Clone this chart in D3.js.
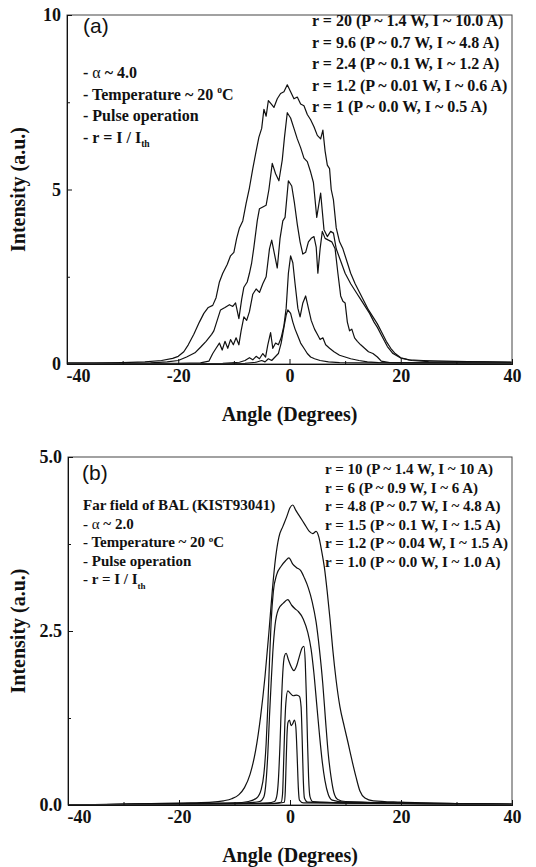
<!DOCTYPE html>
<html>
<head>
<meta charset="utf-8">
<script src="https://cdn.jsdelivr.net/npm/d3@7"></script>
<style>
body { margin: 0; background: #fff; }
svg text { font-family: "Liberation Serif", "Times New Roman", serif; font-weight: bold; fill: #111; }
</style>
</head>
<body>
<script>
//================= data (angle in degrees, intensity a.u.) ==================
// panel (a), alpha ~ 4.0
var aR20 = [[-40,0.03],[-35,0.03],[-30,0.04],[-26,0.06],[-23,0.1],[-21,0.16],[-20,0.22],[-19,0.35],[-18.2,0.55],[-17.2,0.85],[-16.2,1.2],[-15.4,1.45],[-14.6,1.62],[-13.8,1.68],[-13.2,1.9],[-12.6,2.35],[-12,2.6],[-11.2,2.85],[-10.6,3.1],[-10,3.2],[-9.5,3.6],[-9,3.9],[-8.4,4.1],[-7.8,4.6],[-7.2,5.05],[-6.6,5.6],[-6,6.1],[-5.5,6.5],[-5,6.75],[-4.6,7.3],[-4.2,7.1],[-3.8,7.55],[-3.3,7.45],[-2.8,7.35],[-2.2,7.6],[-1.6,7.75],[-1,7.8],[-0.4,8.0],[0.2,7.8],[0.8,7.6],[1.4,7.65],[2,7.45],[2.6,7.4],[3.2,7.15],[3.8,7.0],[4.4,6.8],[5,6.55],[5.6,6.45],[6,6.7],[6.4,6.1],[6.8,5.7],[7.2,5.6],[7.5,5.0],[7.9,4.7],[8.4,3.9],[9,3.5],[9.6,3.3],[10.4,2.9],[11,2.6],[11.8,2.3],[12.6,2.05],[13.4,1.8],[14.2,1.55],[15,1.35],[15.8,1.15],[16.6,0.9],[17.4,0.65],[18.2,0.45],[19,0.3],[20,0.18],[21.5,0.12],[24,0.1],[28,0.08],[32,0.07],[36,0.06],[40,0.05]];
var aR96 = [[-40,0.02],[-30,0.02],[-25,0.03],[-22,0.06],[-20,0.1],[-18.5,0.2],[-17,0.32],[-16,0.48],[-15,0.65],[-14,0.85],[-13.6,0.95],[-13,1.25],[-12.4,1.55],[-11.6,1.62],[-10.8,1.7],[-10.2,1.65],[-9.7,1.75],[-9.1,1.3],[-8.6,1.85],[-8.2,2.2],[-7.6,2.35],[-7.2,2.6],[-6.8,2.9],[-6.4,3.35],[-5.8,4.1],[-5.4,4.45],[-4.8,4.5],[-4.2,4.55],[-3.7,5.0],[-3.1,5.75],[-2.5,5.45],[-1.9,5.25],[-1.3,5.85],[-0.9,6.5],[-0.4,7.2],[0.2,7.05],[0.8,6.75],[1.4,6.45],[2,6.2],[2.6,5.9],[3.2,5.8],[3.8,5.5],[4.3,5.2],[4.9,4.2],[5.6,4.9],[6.2,3.85],[6.8,3.65],[7.4,3.8],[7.9,3.75],[8.4,3.3],[9.2,2.95],[10,2.6],[11,2.3],[12,2.05],[12.8,1.85],[13.6,1.65],[14.4,1.45],[15.2,1.2],[15.8,1.05],[16.6,0.8],[17.6,0.5],[18.6,0.3],[20,0.17],[22,0.1],[25,0.07],[30,0.06],[35,0.06],[40,0.05]];
var aR24 = [[-40,0.01],[-30,0.01],[-20,0.02],[-16,0.03],[-14.5,0.08],[-13.8,0.3],[-13.2,0.45],[-12.6,0.6],[-12.1,0.4],[-11.6,0.65],[-11.1,0.45],[-10.6,0.7],[-10.1,0.55],[-9.6,0.75],[-9.1,0.55],[-8.7,0.95],[-8.2,1.35],[-7.7,1.25],[-7.2,1.5],[-6.6,2.0],[-6.0,2.15],[-5.4,2.05],[-4.8,2.3],[-4.2,2.5],[-3.6,3.3],[-3.2,3.55],[-2.7,3.15],[-2.2,2.75],[-1.7,3.6],[-1.2,4.1],[-0.8,4.2],[-0.2,5.25],[0.4,5.1],[0.9,4.6],[1.4,4.0],[1.9,3.5],[2.4,3.15],[2.9,3.2],[3.4,3.5],[3.9,3.6],[4.4,3.65],[4.8,3.35],[5.1,2.6],[5.5,3.3],[5.9,3.8],[6.4,3.6],[7,3.55],[7.6,3.5],[8.2,3.3],[8.7,2.6],[9.2,1.95],[9.6,1.8],[10,1.75],[10.4,1.2],[10.8,0.95],[11.2,1.0],[11.7,0.75],[12.2,0.65],[12.8,0.55],[13.5,0.45],[14.2,0.35],[15,0.3],[15.8,0.2],[16.5,0.08],[18,0.04],[25,0.03],[40,0.02]];
var aR12 = [[-40,0.01],[-20,0.01],[-12,0.02],[-9,0.05],[-8,0.1],[-7.2,0.18],[-6.6,0.12],[-6,0.22],[-5.4,0.15],[-4.8,0.3],[-4.3,0.2],[-3.9,0.55],[-3.4,0.9],[-3.0,0.45],[-2.5,0.6],[-2.0,0.55],[-1.5,0.75],[-1.0,1.1],[-0.6,1.6],[-0.2,2.6],[0.2,3.1],[0.6,2.9],[1.0,2.3],[1.5,1.6],[1.9,1.35],[2.4,1.75],[2.9,1.95],[3.4,1.6],[3.9,1.25],[4.5,1.0],[5.0,0.85],[5.5,0.7],[6.0,0.75],[6.5,0.55],[7.2,0.45],[8,0.35],[9,0.25],[10,0.2],[11,0.15],[12.5,0.1],[14,0.06],[16,0.04],[20,0.03],[40,0.02]];
var aR10 = [[-40,0.01],[-15,0.01],[-8,0.02],[-6,0.05],[-5,0.1],[-4.4,0.06],[-3.8,0.15],[-3.2,0.1],[-2.6,0.2],[-2,0.3],[-1.5,0.6],[-1.0,1.05],[-0.6,1.4],[-0.3,1.55],[0.2,1.45],[0.6,1.2],[1.0,1.0],[1.5,0.8],[2.0,0.6],[2.6,0.45],[3.2,0.3],[3.8,0.2],[4.5,0.15],[5.5,0.1],[7,0.06],[9,0.04],[12,0.03],[40,0.02]];

// panel (b), alpha ~ 2.0
var bR10 = [[-40,0.0],[-33,0.01],[-25,0.02],[-18,0.03],[-14,0.04],[-12,0.06],[-10.5,0.09],[-9.2,0.15],[-8.2,0.25],[-7.2,0.44],[-6.2,0.78],[-5.3,1.27],[-4.5,1.85],[-3.8,2.48],[-3.2,3.07],[-2.6,3.55],[-2.0,3.85],[-1.3,4.0],[-0.6,4.14],[0.0,4.27],[0.5,4.31],[1.0,4.24],[1.8,4.14],[2.6,4.04],[3.4,3.94],[4.1,3.9],[4.7,3.93],[5.2,3.85],[5.7,3.65],[6.2,3.41],[6.7,3.07],[7.2,2.68],[7.7,2.24],[8.3,1.8],[9.0,1.41],[9.8,1.12],[10.5,0.88],[11.2,0.63],[11.9,0.4],[12.6,0.2],[13.5,0.1],[15,0.06],[20,0.04],[30,0.02],[40,0.01]];
var bR6 = [[-40,0.0],[-20,0.02],[-10,0.03],[-7.5,0.05],[-6,0.1],[-5.2,0.22],[-4.7,0.45],[-4.3,0.88],[-4.0,1.41],[-3.7,2.05],[-3.4,2.63],[-3.0,3.07],[-2.4,3.31],[-1.6,3.43],[-0.8,3.51],[-0.2,3.55],[0.5,3.46],[1.2,3.41],[1.9,3.37],[2.6,3.26],[3.3,3.12],[4.0,2.92],[4.7,2.63],[5.3,2.24],[5.9,1.75],[6.4,1.22],[6.9,0.73],[7.4,0.4],[7.9,0.18],[8.6,0.08],[10,0.05],[20,0.03],[40,0.01]];
var bR48 = [[-40,0.0],[-20,0.02],[-8,0.03],[-5.5,0.05],[-4.7,0.12],[-4.3,0.35],[-4.0,0.73],[-3.7,1.27],[-3.4,1.75],[-3.1,2.19],[-2.7,2.58],[-2.1,2.81],[-1.2,2.9],[-0.4,2.95],[0.3,2.87],[0.9,2.82],[1.5,2.78],[2.4,2.67],[3.2,2.48],[3.8,2.24],[4.3,1.9],[4.8,1.46],[5.3,1.02],[5.8,0.63],[6.3,0.35],[6.9,0.15],[7.6,0.07],[10,0.04],[40,0.01]];
var bR15 = [[-40,0.0],[-10,0.02],[-4,0.03],[-2.8,0.05],[-2.4,0.12],[-2.1,0.35],[-1.8,0.88],[-1.55,1.46],[-1.3,1.9],[-1.0,2.14],[-0.7,2.18],[-0.3,2.09],[0.2,1.99],[0.7,1.93],[1.2,2.0],[1.7,2.14],[2.2,2.26],[2.5,2.28],[2.75,2.05],[2.95,1.56],[3.15,0.93],[3.35,0.4],[3.6,0.12],[4.1,0.05],[10,0.03],[40,0.01]];
var bR12 = [[-40,0.0],[-4,0.02],[-1.6,0.04],[-1.35,0.15],[-1.15,0.6],[-0.95,1.12],[-0.75,1.46],[-0.4,1.64],[0.1,1.6],[0.6,1.57],[1.2,1.58],[1.7,1.56],[2.0,1.41],[2.2,0.93],[2.4,0.35],[2.6,0.1],[3.2,0.04],[40,0.01]];
var bR1 = [[-40,0.0],[-3,0.02],[-1.0,0.04],[-0.85,0.2],[-0.7,0.6],[-0.55,0.99],[-0.35,1.19],[-0.1,1.22],[0.2,1.14],[0.5,1.17],[0.8,1.22],[1.05,1.12],[1.3,0.68],[1.5,0.25],[1.7,0.07],[2.4,0.03],[40,0.01]];

// ticks and texts
var xTicks = [-40, -20, 0, 20, 40];
var xMinor = [-30, -10, 10, 30];
var yTicksA = [0, 5, 10];
var yMinorA = [2.5, 7.5];
var yTicksB = [0, 2.5, 5];
var yMinorB = [1.25, 3.75];

var legendA = ["r = 20 (P ~ 1.4 W, I ~ 10.0 A)", "r = 9.6 (P ~ 0.7 W, I ~ 4.8 A)", "r = 2.4 (P ~ 0.1 W, I ~ 1.2 A)", "r = 1.2 (P ~ 0.01 W, I ~ 0.6 A)", "r = 1 (P ~ 0.0 W, I ~ 0.5 A)"];
var notesA = ["- α ~ 4.0", "- Temperature ~ 20 {o}C", "- Pulse operation", "- r = I / I[th]"];
var legendB = ["r = 10 (P ~ 1.4 W, I ~ 10 A)", "r = 6 (P ~ 0.9 W, I ~ 6 A)", "r = 4.8 (P ~ 0.7 W, I ~ 4.8 A)", "r = 1.5 (P ~ 0.1 W, I ~ 1.5 A)", "r = 1.2 (P ~ 0.04 W, I ~ 1.5 A)", "r = 1.0 (P ~ 0.0 W, I ~ 1.0 A)"];
var notesB = ["Far field of BAL (KIST93041)", "- α ~ 2.0", "- Temperature ~ 20 {o}C", "- Pulse operation", "- r = I / I[th]"];
//================================================

var svg = d3.select("body").append("svg")
            .attr("width", 536)
            .attr("height", 867)
            .style("display", "block");

// text with {sup} and [sub] pieces, alpha drawn in normal weight
var richText = function(g, str, x, y, size) {
  var t = g.append("text").attr("x", x).attr("y", y).style("font-size", size + "px");
  var shift = 0;
  str.split(/(\{\w+\}|\[\w+\]|α)/).forEach(function(s) {
    if (s === "") return;
    var dy = 0, fs = size, txt = s;
    if (s[0] == "{") { dy = -0.38 * size; fs = 0.6 * size; txt = s.slice(1, -1); }
    else if (s[0] == "[") { dy = 0.28 * size; fs = 0.6 * size; txt = s.slice(1, -1); }
    var ts = t.append("tspan").attr("dy", dy - shift).style("font-size", fs + "px").text(txt);
    if (s == "α") ts.style("font-weight", "normal");
    shift = dy;
  });
  return t;
}

var drawPanel = function(p) {
  var x = d3.scaleLinear().domain([-40, 40]).range([p.left, p.right]);
  var y = d3.scaleLinear().domain([0, p.yMax]).range([p.bottom, p.top]);
  var g = svg.append("g");

  // curves
  var line = d3.line()
               .x(function(d) { return x(d[0]); })
               .y(function(d) { return y(d[1]); })
               .curve(p.curve);
  p.series.forEach(function(s) {
    g.append("path")
     .attr("d", line(s))
     .attr("fill", "none")
     .attr("stroke", "#111")
     .attr("stroke-width", 1.2)
     .attr("stroke-linejoin", "round");
  });

  // frame
  g.append("rect")
   .attr("x", p.left).attr("y", p.top)
   .attr("width", p.right - p.left).attr("height", p.bottom - p.top)
   .attr("fill", "none").attr("stroke", "#444").attr("stroke-width", 1);

  // axes, ticks point inward; plain hyphen for negatives
  var xAxis = g.append("g").attr("transform", "translate(0," + p.bottom + ")")
               .call(d3.axisBottom(x).tickValues(xTicks).tickSize(-5).tickPadding(5)
                       .tickFormat(function(d) { return String(d); }));
  g.append("g").attr("transform", "translate(0," + p.bottom + ")")
   .call(d3.axisBottom(x).tickValues(xMinor).tickSize(-3).tickFormat(""));
  var yAxis = g.append("g").attr("transform", "translate(" + p.left + ",0)")
               .call(d3.axisLeft(y).tickValues(p.yTicks).tickSize(-5).tickPadding(6).tickFormat(p.fmt));
  g.append("g").attr("transform", "translate(" + p.left + ",0)")
   .call(d3.axisLeft(y).tickValues(p.yMinor).tickSize(-3).tickFormat(""));
  g.selectAll(".domain").attr("stroke", "#111");
  g.selectAll(".tick line").attr("stroke", "#111");
  g.selectAll(".tick text")
   .style("font-family", "'Liberation Serif', serif")
   .style("font-weight", "bold")
   .style("font-size", "18px")
   .attr("fill", "#111");
  // the -40 label sits inside the frame edge, like the original
  xAxis.selectAll(".tick text").filter(function(d) { return d == -40; })
       .attr("text-anchor", "start").attr("x", -1);

  // axis titles
  g.append("text")
   .attr("x", (p.left + p.right) / 2).attr("y", p.bottom + 57)
   .attr("text-anchor", "middle")
   .style("font-size", "20px")
   .text("Angle (Degrees)");
  g.append("text")
   .attr("transform", "translate(25," + ((p.top + p.bottom) / 2) + ") rotate(-90)")
   .attr("text-anchor", "middle")
   .style("font-size", "20px")
   .text("Intensity (a.u.)");

  // panel tag
  g.append("text")
   .attr("x", p.tagX).attr("y", p.tagY)
   .style("font-family", "'Liberation Sans', Arial, sans-serif")
   .style("font-weight", "normal")
   .style("font-size", "21px")
   .text(p.tag);

  p.legend.forEach(function(s, i) {
    richText(g, s, p.legX, p.legY + i * p.step, p.size);
  });
  p.notes.forEach(function(s, i) {
    richText(g, s, p.noteX, p.noteY + i * p.step, p.size);
  });
}

drawPanel({
  left: 67, right: 512, top: 15, bottom: 364, yMax: 10,
  yTicks: yTicksA, yMinor: yMinorA, fmt: d3.format("d"),
  series: [aR20, aR96, aR24, aR12, aR10], curve: d3.curveLinear,
  tag: "(a)", tagX: 83, tagY: 33,
  legend: legendA, legX: 312, legY: 26,
  notes: notesA, noteX: 83, noteY: 78,
  step: 21.5, size: 16
});

drawPanel({
  left: 68, right: 512, top: 457, bottom: 805, yMax: 5,
  yTicks: yTicksB, yMinor: yMinorB, fmt: d3.format(".1f"),
  series: [bR10, bR6, bR48, bR15, bR12, bR1], curve: d3.curveMonotoneX,
  tag: "(b)", tagX: 82, tagY: 480,
  legend: legendB, legX: 325, legY: 474,
  notes: notesB, noteX: 83, noteY: 510,
  step: 18.6, size: 15
});
</script>
</body>
</html>
